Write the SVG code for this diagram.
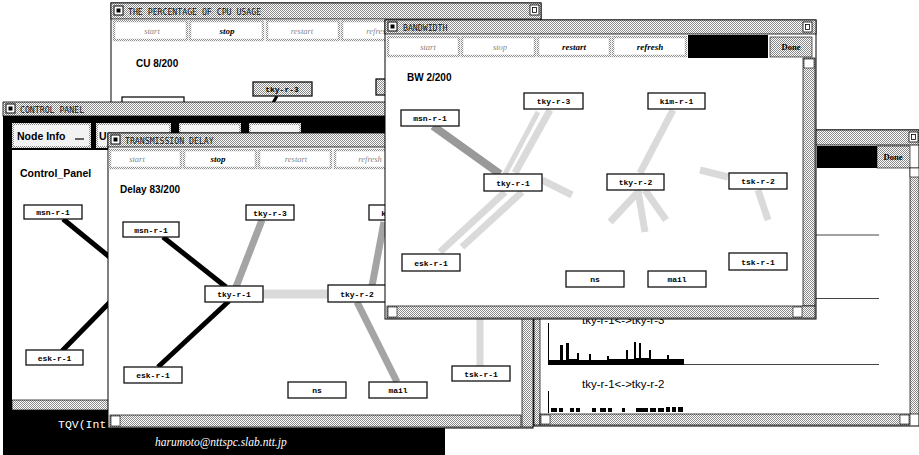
<svg xmlns="http://www.w3.org/2000/svg" width="919" height="455" viewBox="0 0 919 455">
<defs>
<pattern id="chk" width="2" height="2" patternUnits="userSpaceOnUse"><rect width="2" height="2" fill="#fff"/><rect width="1" height="1" fill="#8a8a8a"/><rect x="1" y="1" width="1" height="1" fill="#8a8a8a"/></pattern>
<style>
.win{fill:#fff;stroke:#000;stroke-width:1}
.tb{fill:url(#chk);stroke:#000;stroke-width:0.8}
.tt{font-family:"DejaVu Sans Mono","Liberation Mono",monospace;font-size:8.2px;fill:#111}
.btn{fill:#fff;stroke:url(#chk);stroke-width:2.5}
.bon{font-family:"Liberation Serif",serif;font-style:italic;font-weight:bold;font-size:9px;fill:#000;text-anchor:middle}
.boff{font-family:"Liberation Serif",serif;font-style:italic;font-size:8.5px;fill:#888;text-anchor:middle}
.hd{font-family:"Liberation Sans",Arial,sans-serif;font-weight:bold;font-size:10px;fill:#000}
.nd rect{fill:#fff;stroke:#111;stroke-width:1.3}
.nd text{font-family:"Liberation Mono","DejaVu Sans Mono",monospace;font-weight:bold;font-size:8px;fill:#000;text-anchor:middle}
.sb{fill:url(#chk);stroke:#000;stroke-width:0.7}
.blk{stroke:#000;stroke-width:5;stroke-linecap:butt}
.gry{stroke:#a4a4a4;stroke-width:7}
.fnt{stroke:#dadada;stroke-width:7}
.lbl{font-family:"Liberation Sans",Arial,sans-serif;font-size:11.5px;fill:#000}
</style>
</defs>
<rect width="919" height="455" fill="#fff"/>

<!-- CPU usage window -->
<g id="win-cpu">
<rect class="win" x="111" y="3" width="430" height="200"/>
<rect class="tb" x="111" y="3" width="430" height="16"/>
<rect x="114" y="6" width="9" height="9" fill="#fff" stroke="#000"/><rect x="116.5" y="8.5" width="4" height="4" fill="#000"/>
<text class="tt" x="128" y="15">THE PERCENTAGE OF CPU USAGE</text>
<rect x="530" y="5" width="9" height="10" fill="#fff" stroke="#000" stroke-width="0.8"/><rect x="532.5" y="7.5" width="4" height="5" fill="none" stroke="#000" stroke-width="0.8"/>
<rect class="btn" x="114" y="21" width="73" height="19"/>
<rect class="btn" x="190" y="21" width="73" height="19"/>
<rect class="btn" x="267" y="21" width="72" height="19"/>
<rect class="btn" x="342" y="21" width="74" height="19"/>
<text class="boff" x="152" y="34">start</text>
<text class="bon" x="227" y="34">stop</text>
<text class="boff" x="302" y="34">restart</text>
<text class="boff" x="378" y="34">refresh</text>
<text class="hd" x="136" y="67">CU 8/200</text>
<g id="cpu-edges"><line x1="277" y1="96" x2="266" y2="115" stroke="#000" stroke-width="3"/></g>
<g id="cpu-tky-r-3" class="nd"><rect x="253" y="82" width="59" height="14" style="fill:url(#chk)"/><text x="282" y="92">tky-r-3</text></g>
<g id="cpu-msn-r-1" class="nd"><rect x="122" y="97" width="62" height="16"/><text x="153" y="108">msn-r-1</text></g>
<g id="cpu-kim-r-1" class="nd"><rect x="376" y="79" width="24" height="16" style="fill:url(#chk)"/></g>
</g>

<!-- Control panel window -->
<g id="win-ctl">
<rect x="3" y="102" width="442" height="353" fill="#000"/>
<rect class="tb" x="3" y="102" width="442" height="14"/>
<rect x="6" y="104" width="9" height="9" fill="#fff" stroke="#000"/><rect x="8.5" y="106.5" width="4" height="4" fill="#000"/>
<text class="tt" x="20" y="113">CONTROL PANEL</text>
<rect x="13" y="124" width="77" height="23" fill="#f2f2f2" stroke="url(#chk)" stroke-width="2"/>
<text class="hd" x="17" y="140" style="font-size:10.5px">Node Info</text>
<line x1="75" y1="139" x2="84" y2="139" stroke="#000" stroke-width="1.2"/>
<rect x="97" y="124" width="73" height="23" fill="#f2f2f2" stroke="url(#chk)" stroke-width="2"/>
<text class="hd" x="99" y="140" style="font-size:10.5px">U</text>
<rect x="180" y="124" width="60" height="23" fill="#f2f2f2" stroke="url(#chk)" stroke-width="2"/>
<rect x="250" y="124" width="50" height="23" fill="#f2f2f2" stroke="url(#chk)" stroke-width="2"/>
<rect x="12" y="150" width="110" height="250" fill="#fff"/>
<text class="hd" x="20" y="177" style="font-size:10.5px">Control_Panel</text>
<g id="ctl-edges">
<line class="blk" x1="63" y1="219" x2="112" y2="259"/>
<line class="blk" x1="62" y1="351" x2="112" y2="300"/>
</g>
<g id="ctl-msn-r-1" class="nd"><rect x="24" y="205" width="58" height="14"/><text x="53" y="215">msn-r-1</text></g>
<g id="ctl-esk-r-1" class="nd"><rect x="26" y="350" width="57" height="15"/><text x="54.5" y="360.5">esk-r-1</text></g>
<rect class="sb" x="12" y="400" width="110" height="10"/>
<text x="58" y="428" font-family="'Liberation Mono',monospace" font-size="11.5" fill="#fff">TQV(Int</text>
<text x="155" y="446" font-family="'Liberation Serif',serif" font-style="italic" font-size="11.5" fill="#fff">harumoto@nttspc.slab.ntt.jp</text>
</g>

<!-- Link graph window -->
<g id="win-link">
<rect class="win" x="534" y="130" width="385" height="296"/>
<rect class="tb" x="534" y="130" width="385" height="15"/>
<rect x="909" y="132" width="9" height="10" fill="#fff" stroke="#000" stroke-width="0.8"/><rect x="911.5" y="134.5" width="4" height="5" fill="none" stroke="#000" stroke-width="0.8"/>
<rect x="817" y="146" width="60" height="22" fill="#000"/>
<rect x="877" y="146" width="33" height="22" fill="url(#chk)" stroke="#000" stroke-width="0.6"/>
<text x="893" y="160" font-family="'Liberation Serif',serif" font-weight="bold" font-size="8.5" text-anchor="middle">Done</text>
<rect class="sb" x="910" y="168" width="9" height="246"/>
<rect x="910" y="168" width="9" height="9" fill="#fff" stroke="#000" stroke-width="0.6"/>
<rect class="sb" x="534" y="168" width="6" height="257"/>
<line x1="548" y1="235" x2="879" y2="235" stroke="#444" stroke-width="1"/>
<line x1="548" y1="298.5" x2="879" y2="298.5" stroke="#444" stroke-width="1"/>
<text class="lbl" x="582" y="324">tky-r-1&lt;-&gt;tky-r-3</text>
<line x1="548.5" y1="323" x2="548.5" y2="365" stroke="#000" stroke-width="1"/>
<path d="M548,365 L548,360 L560,360 L560,345 L563,345 L563,360 L566,360 L566,343 L569,343 L569,359 L577,359 L577,353 L579,353 L579,360 L589,360 L589,354 L591,354 L591,360 L607,360 L607,356 L609,356 L609,359 L626,359 L626,350 L628,350 L628,359 L634,359 L634,342 L636,342 L636,358 L639,358 L639,343 L641,343 L641,358 L649,358 L649,350 L651,350 L651,359 L667,359 L667,355 L669,355 L669,359 L684,359 L684,365 Z" fill="#000"/>
<line x1="684" y1="364.5" x2="879" y2="364.5" stroke="#444" stroke-width="1"/>
<text class="lbl" x="582" y="388">tky-r-1&lt;-&gt;tky-r-2</text>
<line x1="548.5" y1="391" x2="548.5" y2="413" stroke="#000" stroke-width="1"/>
<g fill="#000">
<rect x="551" y="408" width="6" height="4"/><rect x="559" y="408" width="4" height="4"/><rect x="570" y="408" width="4" height="4"/><rect x="576" y="408" width="4" height="4"/>
<rect x="592" y="408" width="4" height="4"/><rect x="600" y="408" width="6" height="4"/><rect x="608" y="408" width="4" height="4"/><rect x="622" y="408" width="3" height="4"/>
<rect x="636" y="408" width="12" height="4"/><rect x="650" y="408" width="6" height="4"/><rect x="658" y="408" width="6" height="4"/><rect x="666" y="407" width="4" height="5"/>
<rect x="672" y="407" width="4" height="5"/><rect x="678" y="407" width="5" height="5"/>
</g>
<rect class="sb" x="540" y="414" width="370" height="11"/>
<rect x="541" y="415" width="9" height="9" fill="#fff" stroke="#000" stroke-width="0.6"/>
<rect x="900" y="415" width="9" height="9" fill="#fff" stroke="#000" stroke-width="0.6"/>
</g>

<!-- Transmission delay window -->
<g id="win-delay">
<rect class="win" x="108" y="133" width="425" height="295"/>
<rect class="tb" x="108" y="133" width="425" height="14"/>
<rect x="111" y="135" width="9" height="9" fill="#fff" stroke="#000"/><rect x="113.5" y="137.5" width="4" height="4" fill="#000"/>
<text class="tt" x="125" y="144">TRANSMISSION DELAY</text>
<rect class="btn" x="110" y="150" width="71" height="18"/>
<rect class="btn" x="184" y="150" width="72" height="18"/>
<rect class="btn" x="259" y="150" width="72" height="18"/>
<rect class="btn" x="335" y="150" width="72" height="18"/>
<text class="boff" x="137" y="162">start</text>
<text class="bon" x="218" y="162">stop</text>
<text class="boff" x="296" y="162">restart</text>
<text class="boff" x="370" y="162">refresh</text>
<text class="hd" x="120" y="193">Delay 83/200</text>
<g id="delay-edges">
<line class="blk" x1="163" y1="237" x2="226" y2="287"/>
<line class="blk" x1="158" y1="367" x2="229" y2="301"/>
<line class="gry" x1="262" y1="220" x2="236" y2="287"/>
<line class="fnt" x1="263" y1="294" x2="328" y2="294" style="stroke-width:9"/>
<line class="gry" x1="384" y1="222" x2="372" y2="286"/>
<line class="gry" x1="357" y1="302" x2="397" y2="382"/>
<line class="fnt" x1="480" y1="318" x2="480" y2="366"/>
</g>
<g id="delay-tky-r-3" class="nd"><rect x="246" y="205" width="48" height="15"/><text x="270" y="215.5">tky-r-3</text></g>
<g id="delay-msn-r-1" class="nd"><rect x="123" y="222" width="56" height="15"/><text x="151" y="232.5">msn-r-1</text></g>
<g id="delay-kim-r-1" class="nd"><rect x="369" y="205" width="58" height="15"/><text x="398" y="215.5">kim-r-1</text></g>
<g id="delay-tky-r-1" class="nd"><rect x="205" y="286" width="58" height="16"/><text x="234" y="297">tky-r-1</text></g>
<g id="delay-tky-r-2" class="nd"><rect x="328" y="285" width="58" height="17"/><text x="357" y="296.5">tky-r-2</text></g>
<g id="delay-esk-r-1" class="nd"><rect x="124" y="367" width="58" height="16"/><text x="153" y="378">esk-r-1</text></g>
<g id="delay-ns" class="nd"><rect x="288" y="382" width="58" height="16"/><text x="317" y="393">ns</text></g>
<g id="delay-mail" class="nd"><rect x="369" y="382" width="58" height="16"/><text x="398" y="393">mail</text></g>
<g id="delay-tsk-r-1" class="nd"><rect x="452" y="366" width="58" height="15"/><text x="481" y="376.5">tsk-r-1</text></g>
<rect class="sb" x="110" y="415" width="411" height="12"/>
<rect x="111" y="416" width="9" height="10" fill="#fff" stroke="#000" stroke-width="0.6"/>
<rect class="sb" x="522" y="170" width="11" height="257"/>
</g>

<!-- Bandwidth window -->
<g id="win-bw">
<rect class="win" x="385" y="20" width="431" height="299"/>
<rect class="tb" x="385" y="20" width="431" height="14"/>
<rect x="388" y="22" width="9" height="9" fill="#fff" stroke="#000"/><rect x="390.5" y="24.5" width="4" height="4" fill="#000"/>
<text class="tt" x="403" y="31">BANDWIDTH</text>
<rect x="803" y="22" width="9" height="10" fill="#fff" stroke="#000" stroke-width="0.8"/><rect x="805.5" y="24.5" width="4" height="5" fill="none" stroke="#000" stroke-width="0.8"/>
<rect class="btn" x="388" y="37" width="71" height="19"/>
<rect class="btn" x="462" y="37" width="73" height="19"/>
<rect class="btn" x="538" y="37" width="72" height="19"/>
<rect class="btn" x="613" y="37" width="73" height="19"/>
<rect x="688" y="35" width="80" height="23" fill="#000"/>
<rect x="770" y="37" width="42" height="20" fill="url(#chk)" stroke="#000" stroke-width="0.6"/>
<text class="boff" x="428" y="50">start</text>
<text class="boff" x="500" y="50">stop</text>
<text class="bon" x="574" y="50">restart</text>
<text class="bon" x="650" y="50">refresh</text>
<text x="791" y="50" font-family="'Liberation Serif',serif" font-weight="bold" font-size="8.5" text-anchor="middle">Done</text>
<text class="hd" x="407" y="81">BW 2/200</text>
<g id="bw-edges">
<line x1="433" y1="126" x2="500" y2="174" stroke="#999" stroke-width="8"/>
<line class="fnt" x1="550" y1="110" x2="515" y2="173"/>
<line class="fnt" x1="538" y1="112" x2="505" y2="174" style="stroke-width:5"/>
<line class="fnt" x1="542" y1="180" x2="572" y2="195"/>
<line class="fnt" x1="440" y1="252" x2="505" y2="192"/>
<line class="fnt" x1="462" y1="247" x2="522" y2="192"/>
<line class="fnt" x1="673" y1="110" x2="640" y2="173"/>
<line class="fnt" x1="640" y1="190" x2="610" y2="222"/>
<line class="fnt" x1="638" y1="191" x2="645" y2="232"/>
<line class="fnt" x1="645" y1="190" x2="666" y2="220"/>
<line class="fnt" x1="700" y1="170" x2="728" y2="177"/>
<line class="fnt" x1="758" y1="190" x2="768" y2="220"/>
</g>
<g id="bw-tky-r-3" class="nd"><rect x="524" y="93" width="59" height="16"/><text x="553.5" y="104">tky-r-3</text></g>
<g id="bw-kim-r-1" class="nd"><rect x="648" y="93" width="57" height="16"/><text x="676.5" y="104">kim-r-1</text></g>
<g id="bw-msn-r-1" class="nd"><rect x="401" y="110" width="58" height="16"/><text x="430" y="121">msn-r-1</text></g>
<g id="bw-tky-r-1" class="nd"><rect x="484" y="174" width="58" height="17"/><text x="513" y="185.5">tky-r-1</text></g>
<g id="bw-tky-r-2" class="nd"><rect x="607" y="174" width="57" height="16"/><text x="635.5" y="185">tky-r-2</text></g>
<g id="bw-tsk-r-2" class="nd"><rect x="729" y="173" width="58" height="16"/><text x="758" y="184">tsk-r-2</text></g>
<g id="bw-esk-r-1" class="nd"><rect x="402" y="254" width="58" height="17"/><text x="431" y="265.5">esk-r-1</text></g>
<g id="bw-tsk-r-1" class="nd"><rect x="729" y="253" width="58" height="17"/><text x="758" y="264.5">tsk-r-1</text></g>
<g id="bw-ns" class="nd"><rect x="566" y="271" width="58" height="16"/><text x="595" y="282">ns</text></g>
<g id="bw-mail" class="nd"><rect x="648" y="271" width="58" height="16"/><text x="677" y="282">mail</text></g>
<rect class="sb" x="803" y="58" width="12" height="248"/>
<rect x="804" y="59" width="10" height="9" fill="#fff" stroke="#000" stroke-width="0.6"/>
<rect class="sb" x="387" y="306" width="428" height="12"/>
<rect x="388" y="307" width="9" height="10" fill="#fff" stroke="#000" stroke-width="0.6"/>
<rect x="793" y="307" width="9" height="10" fill="#fff" stroke="#000" stroke-width="0.6"/>
</g>
</svg>
